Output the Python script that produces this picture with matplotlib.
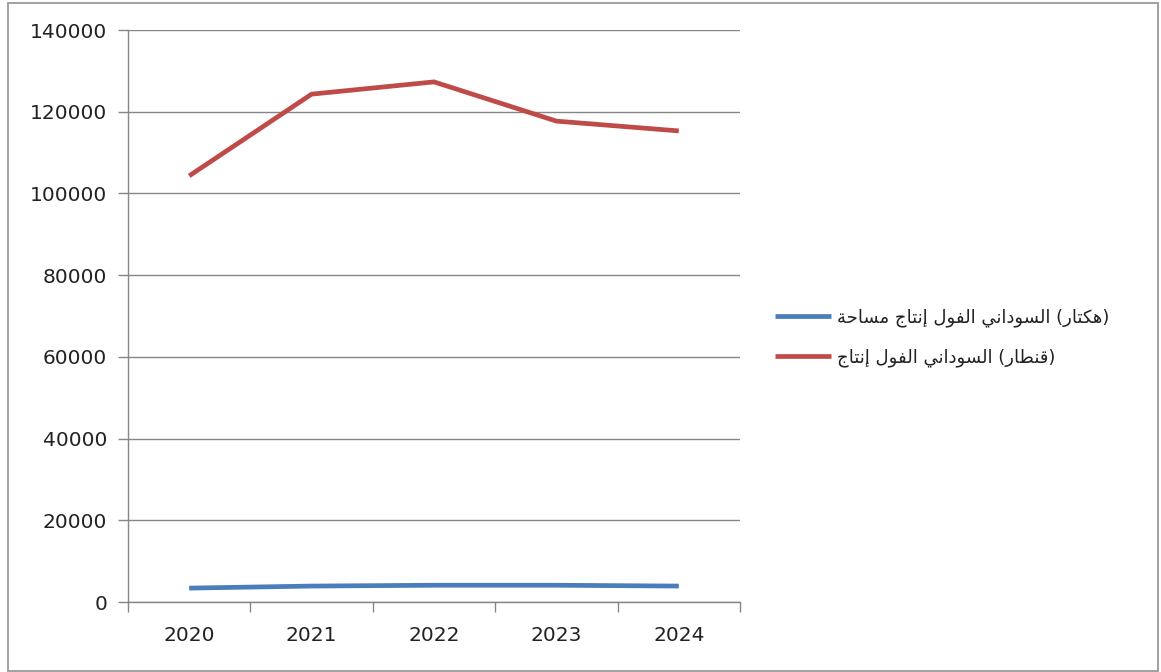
import matplotlib
matplotlib.use("Agg")
import matplotlib.pyplot as plt
from matplotlib.patches import Rectangle
from matplotlib.ticker import FixedLocator, NullFormatter

# ---------------- data ----------------
years = ["2020", "2021", "2022", "2023", "2024"]
area_ha = [3400, 3900, 4100, 4100, 3900]            # مساحة إنتاج الفول السوداني (هكتار)
production_qt = [104300, 124300, 127300, 117700, 115300]  # إنتاج الفول السوداني (قنطار)
series_names = ["مساحة إنتاج الفول السوداني (هكتار)",
                "إنتاج الفول السوداني (قنطار)"]
series_colors = ["#4A7EBB", "#BE4B48"]
y_ticks = [0, 20000, 40000, 60000, 80000, 100000, 120000, 140000]

# ------------- minimal Arabic shaping (presentation forms) -------------
FORMS = {  # isolated, final, initial, medial (None -> right-joining only)
    "\u0627": (0xFE8D, 0xFE8E, None, None),
    "\u0625": (0xFE87, 0xFE88, None, None),
    "\u0623": (0xFE83, 0xFE84, None, None),
    "\u0622": (0xFE81, 0xFE82, None, None),
    "\u0629": (0xFE93, 0xFE94, None, None),
    "\u062F": (0xFEA9, 0xFEAA, None, None),
    "\u0631": (0xFEAD, 0xFEAE, None, None),
    "\u0648": (0xFEED, 0xFEEE, None, None),
    "\u0628": (0xFE8F, 0xFE90, 0xFE91, 0xFE92),
    "\u062A": (0xFE95, 0xFE96, 0xFE97, 0xFE98),
    "\u062C": (0xFE9D, 0xFE9E, 0xFE9F, 0xFEA0),
    "\u062D": (0xFEA1, 0xFEA2, 0xFEA3, 0xFEA4),
    "\u0633": (0xFEB1, 0xFEB2, 0xFEB3, 0xFEB4),
    "\u0637": (0xFEC1, 0xFEC2, 0xFEC3, 0xFEC4),
    "\u0641": (0xFED1, 0xFED2, 0xFED3, 0xFED4),
    "\u0642": (0xFED5, 0xFED6, 0xFED7, 0xFED8),
    "\u0643": (0xFED9, 0xFEDA, 0xFEDB, 0xFEDC),
    "\u0644": (0xFEDD, 0xFEDE, 0xFEDF, 0xFEE0),
    "\u0645": (0xFEE1, 0xFEE2, 0xFEE3, 0xFEE4),
    "\u0646": (0xFEE5, 0xFEE6, 0xFEE7, 0xFEE8),
    "\u0647": (0xFEE9, 0xFEEA, 0xFEEB, 0xFEEC),
    "\u064A": (0xFEF1, 0xFEF2, 0xFEF3, 0xFEF4),
}
LAM_ALEF = {"\u0627": 0xFEFB, "\u0625": 0xFEF9, "\u0623": 0xFEF7, "\u0622": 0xFEF5}


def dual(c):
    return c in FORMS and FORMS[c][2] is not None


def shape_word(word):
    out = []
    i = 0
    n = len(word)
    while i < n:
        c = word[i]
        if c not in FORMS:
            out.append(c)
            i += 1
            continue
        prev = word[i - 1] if i > 0 else ""
        jp = dual(prev)
        if c == "\u0644" and i + 1 < n and word[i + 1] in LAM_ALEF:
            code = LAM_ALEF[word[i + 1]] + (1 if jp else 0)
            out.append(chr(code))
            i += 2
            continue
        nxt = word[i + 1] if i + 1 < n else ""
        jn = dual(c) and nxt in FORMS
        iso, fin, ini, med = FORMS[c]
        if jp and jn:
            code = med
        elif jp:
            code = fin
        elif jn:
            code = ini
        else:
            code = iso
        out.append(chr(code))
        i += 1
    return "".join(reversed(out))


def display_label(text):
    words = []
    for w in text.split(" "):
        if w.startswith("(") and w.endswith(")"):
            words.append("(" + shape_word(w[1:-1]) + ")")
        else:
            words.append(shape_word(w))
    return " ".join(words)


# ---------------- figure ----------------
W, H = 1161, 672
fig = plt.figure(figsize=(W / 100, H / 100), dpi=100)
fig.patch.set_facecolor("white")

# outer chart border
fig.patches.append(Rectangle((8 / W, 1 / H), (1158 - 8) / W, (669 - 1) / H,
                             transform=fig.transFigure, fill=False,
                             edgecolor="#9A9A9A", linewidth=1.3))

ax = fig.add_axes([128 / W, 1 - 602 / H, (740 - 128) / W, (602 - 30) / H])
x = list(range(len(years)))

grid_color = "#868686"
for series, name, col in zip([area_ha, production_qt], series_names, series_colors):
    ax.plot(x, series, color=col, lw=3.4, solid_capstyle="butt",
            solid_joinstyle="round", label=display_label(name), zorder=3)

ax.set_xlim(-0.5, len(years) - 0.5)
ax.set_ylim(0, 140000)
ax.yaxis.set_major_locator(FixedLocator(y_ticks))
ax.set_yticklabels([str(v) for v in y_ticks])
ax.grid(axis="y", color=grid_color, lw=1.0, zorder=0)
ax.set_axisbelow(True)

# x: category labels at centers, tick marks between categories
ax.set_xticks(x)
ax.set_xticklabels(years)
ax.xaxis.set_minor_locator(FixedLocator([i - 0.5 for i in range(len(years) + 1)]))
ax.xaxis.set_minor_formatter(NullFormatter())
ax.tick_params(axis="x", which="major", length=0, pad=17, labelsize=14.5,
               labelcolor="#222222")
ax.tick_params(axis="x", which="minor", length=7, width=1.0, color=grid_color,
               direction="out")
ax.tick_params(axis="y", length=7, width=1.0, color=grid_color, pad=8,
               labelsize=14.5, labelcolor="#222222")

for s in ["top", "right"]:
    ax.spines[s].set_visible(False)
for s in ["left", "bottom"]:
    ax.spines[s].set_color(grid_color)
    ax.spines[s].set_linewidth(1.0)

leg = fig.legend(loc="upper left", bbox_to_anchor=(775 / W, 1 - 308 / H),
                 frameon=False, borderpad=0, borderaxespad=0,
                 handlelength=3.1, handletextpad=0.35, labelspacing=1.2,
                 prop={"family": ["DejaVu Sans"], "size": 13})
for t in leg.get_texts():
    t.set_color("#222222")
for l in leg.get_lines():
    l.set_linewidth(3.4)

fig.savefig("out.png", dpi=100, facecolor="white")
